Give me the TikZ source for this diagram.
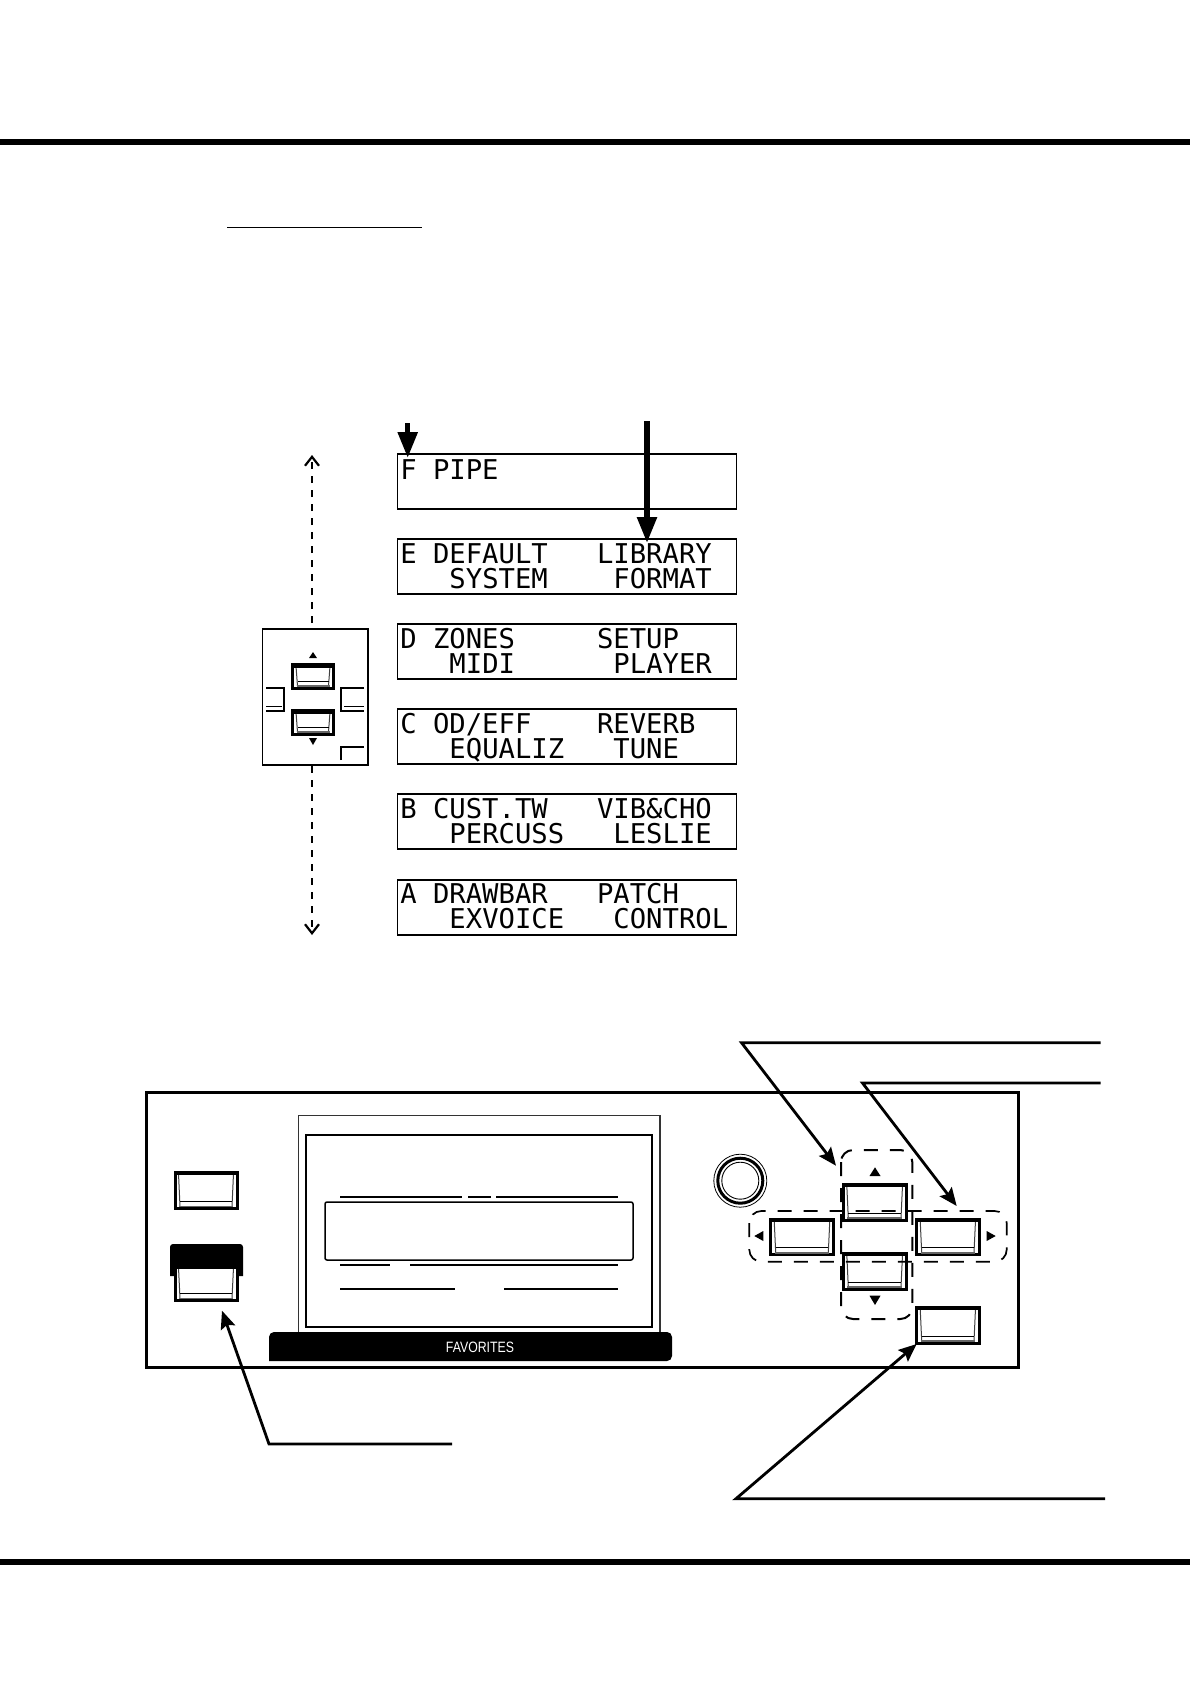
\documentclass[tikz,border=0pt]{standalone}
\usepackage{fontspec}
\setmainfont{Liberation Sans}
\newfontfamily\lcdfont{DejaVu Sans Mono}
\usetikzlibrary{arrows.meta,calc}
\tikzset{
  x=1pt,y=-1pt,
  lcdbox/.style={draw,line width=1.1pt,minimum width=339.5pt,minimum height=55pt,inner sep=0pt,outer sep=0pt},
  lcdtext/.style={anchor=base west,inner sep=0pt,outer sep=0pt,font=\lcdfont\fontsize{27.24}{27.24}\selectfont},
  rulebar/.style={line width=6.3pt},
  boldarrow/.style={line width=5.5pt,-{Triangle[length=26pt,width=19pt]}},
  leader/.style={line width=2.8pt,-{Stealth[length=18pt,width=15pt,inset=3pt]},line join=miter},
  dasharrow/.style={line width=1.8pt,dash pattern=on 7pt off 7pt,-{Straight Barb[length=9pt,width=14pt,line width=2.2pt]}},
  btnouter/.style={draw,line width=3pt,fill=white,inner sep=0pt,outer sep=1pt},
  groupdash/.style={line width=2pt,dash pattern=on 14pt off 12pt,rounded corners=12pt},
  tri/.style={fill=black,draw=none},
}
% \btn{name}{x1}{y1}{x2}{y2}
\newcommand{\btn}[5]{%
  \pgfmathsetmacro{\bw}{#4-#2}\pgfmathsetmacro{\bh}{#5-#3}%
  \node[btnouter,minimum width=\bw pt,minimum height=\bh pt] (#1) at ({(#2+#4)/2},{(#3+#5)/2}) {};
  \draw[line width=1pt,draw=black!75] (#2+3.5,#3+1.5) -- (#2+5,#5-2) (#4-3.5,#3+1.5) -- (#4-5,#5-2);
  \draw[line width=1pt] (#2+5,#5-7) -- (#4-5,#5-7);
  \draw[line width=1.8pt,draw=black!60] (#2+4,#5-2) -- (#4-4,#5-2);
  \draw[line width=2.2pt] (#2+1,#3+2) -- (#4-1,#3+2);
}
% \lcd{name}{top}{line1}{line2}{textshift}
\newcommand{\lcd}[5]{%
  \node[lcdbox] (#1) at (567,#2+27.5) {};
  \node[lcdtext] (#1a) at ($(#1.north west)+(3,24+#5)$) {#3};
  \node[lcdtext] (#1b) at ($(#1.north west)+(3,49+#5)$) {#4};
}
\begin{document}
\begin{tikzpicture}
\useasboundingbox (0,0) rectangle (1190,1684);
\fill[white] (0,0) rectangle (1190,1684);
% page rules
\coordinate (tl) at (0,142); \coordinate (tr) at (1190,142);
\coordinate (bl) at (0,1562); \coordinate (br) at (1190,1562);
\draw[rulebar] (tl) -- (tr);
\draw[rulebar] (bl) -- (br);
\coordinate (ula) at (227,227.3); \coordinate (ulb) at (422,227.3);
\draw[line width=1.3pt] (ula) -- (ulb);
% LCD list
\lcd{dF}{454}{F~PIPE}{}{1.5}
\lcd{dE}{539}{E~DEFAULT~~~LIBRARY}{~~~SYSTEM~~~~FORMAT}{0}
\lcd{dD}{624}{D~ZONES~~~~~SETUP}{~~~MIDI~~~~~~PLAYER}{0}
\lcd{dC}{709}{C~OD/EFF~~~~REVERB}{~~~EQUALIZ~~~TUNE}{0}
\lcd{dB}{794}{B~CUST.TW~~~VIB\&CHO}{~~~PERCUSS~~~LESLIE}{0}
\lcd{dA}{880}{A~DRAWBAR~~~PATCH}{~~~EXVOICE~~~CONTROL}{-0.5}
% bold arrows
\coordinate (a1s) at (407.7,423); \coordinate (a1e) at (407.7,458);
\coordinate (a2s) at (647,421); \coordinate (a2e) at (647,543);
\draw[boldarrow] (a1s) -- (a1e);
\draw[boldarrow] (a2s) -- (a2e);
% small panel
\node[draw,line width=1.5pt,minimum width=105.5pt,minimum height=136pt,inner sep=0pt,outer sep=0pt] (pan) at (315.2,697) {};
\coordinate (upStart) at (312,623); \coordinate (dnStart) at (312,766);
\coordinate (upEnd) at (312,455); \coordinate (dnEnd) at (312,935);
\draw[dasharrow] (upStart) -- (upEnd);
\draw[dasharrow] (dnStart) -- (dnEnd);
\btn{pb1}{292.5}{664.5}{333.5}{688}
\btn{pb2}{292.5}{710.5}{333.5}{734}
\fill[tri] (309,658) -- (317,658) -- (313,652) -- cycle;
\fill[tri] (309,738) -- (317,738) -- (313,745) -- cycle;
\draw[line width=2.8pt] (266,688) -- (284,688) -- (284,711) -- (266,711);
\draw[line width=1pt] (266,706) -- (282,706);
\draw[line width=2.8pt] (364,688) -- (341,688) -- (341,711) -- (364,711);
\draw[line width=1pt] (364,706) -- (344,706);
\draw[line width=2.8pt] (341,760) -- (341,747) -- (364,747);
% main panel
\node[draw,line width=3pt,minimum width=872pt,minimum height=275pt,inner sep=0pt,outer sep=0pt] (main) at (582,1229.5) {};
% bezel
\draw[line width=1.5pt,draw=black!80] (298.6,1333) -- (298.6,1115.7) -- (660,1115.7) -- (660,1333);
\node[draw,line width=2.8pt,minimum width=346pt,minimum height=192pt,inner sep=0pt,outer sep=0pt] (inner) at (479,1231) {};
\node[draw,line width=1.5pt,rounded corners=2pt,minimum width=308pt,minimum height=58pt,inner sep=0pt,outer sep=0pt] (win) at (479,1231) {};
\draw[line width=2.2pt] (340,1196.7) -- (462,1196.7) (468,1196.7) -- (491,1196.7) (496,1196.7) -- (618,1196.7);
\draw[line width=2.2pt] (340,1264.7) -- (390,1264.7) (410,1264.7) -- (618,1264.7);
\draw[line width=1.1pt] (340,1289) -- (455,1289) (504,1289) -- (618,1289);
\fill (269,1361) -- (269,1345) [rounded corners=5pt] -- (269,1332) -- (672,1332) -- (672,1361) -- (300,1361) [sharp corners] -- (269,1361) -- cycle;
\node[text=white,inner sep=0pt,font=\fontsize{15}{15}\selectfont,xscale=.82] (fav) at (480,1347.5) {FAVORITES};
% left buttons
\btn{lb1}{175}{1172}{237}{1208.5}
\fill (170,1276) -- (170,1255) [rounded corners=3pt] -- (170,1244) -- (243,1244) -- (243,1260) [sharp corners] -- (243,1276) -- cycle;
\btn{lb2}{175}{1266}{237}{1300.5}
\fill (176,1255) rectangle (236,1268);
% knob
\node[draw,circle,line width=.8pt,minimum size=53pt,inner sep=0pt] (knob) at (740.3,1180.7) {};
\draw[line width=3pt] (knob.center) circle (22.5);
\draw[line width=.9pt] (knob.center) circle (18.5);
% buttons
\btn{bu}{843.3}{1184}{906}{1220}
\btn{bd}{843.3}{1253}{906}{1289}
\btn{bl}{770.7}{1219}{833.3}{1254.7}
\btn{br1}{916.7}{1219}{979}{1254.7}
\btn{bx}{916.7}{1307}{979}{1343}
\fill[tri] (869.5,1176) -- (880.5,1176) -- (875,1167.3) -- cycle;
\fill[tri] (869.5,1295.7) -- (880.5,1295.7) -- (875,1305) -- cycle;
\fill[tri] (763.3,1231) -- (763.3,1241) -- (754.3,1236) -- cycle;
\fill[tri] (986.7,1231) -- (986.7,1241) -- (995.7,1236) -- cycle;
\draw[groupdash] (841,1150) rectangle (912.3,1319);
\draw[groupdash,line width=1.7pt] (749.3,1211) rectangle (1006.7,1261.7);
% leaders
\coordinate (l1r) at (1100.7,1042.7); \coordinate (l1m) at (741.5,1042.7); \coordinate (l1t) at (836,1165.7);
\coordinate (l2r) at (1100.7,1083); \coordinate (l2m) at (862.5,1083); \coordinate (l2t) at (956.7,1206);
\coordinate (l3r) at (1105,1498.7); \coordinate (l3m) at (736,1498.7); \coordinate (l3t) at (916.7,1344);
\coordinate (l4r) at (452,1444); \coordinate (l4m) at (269,1444); \coordinate (l4t) at (222,1310.7);
\draw[leader] (l1r) -- (l1m) -- (l1t);
\draw[leader] (l2r) -- (l2m) -- (l2t);
\draw[leader] (l3r) -- (l3m) -- (l3t);
\draw[leader] (l4r) -- (l4m) -- (l4t);
\end{tikzpicture}
\end{document}
